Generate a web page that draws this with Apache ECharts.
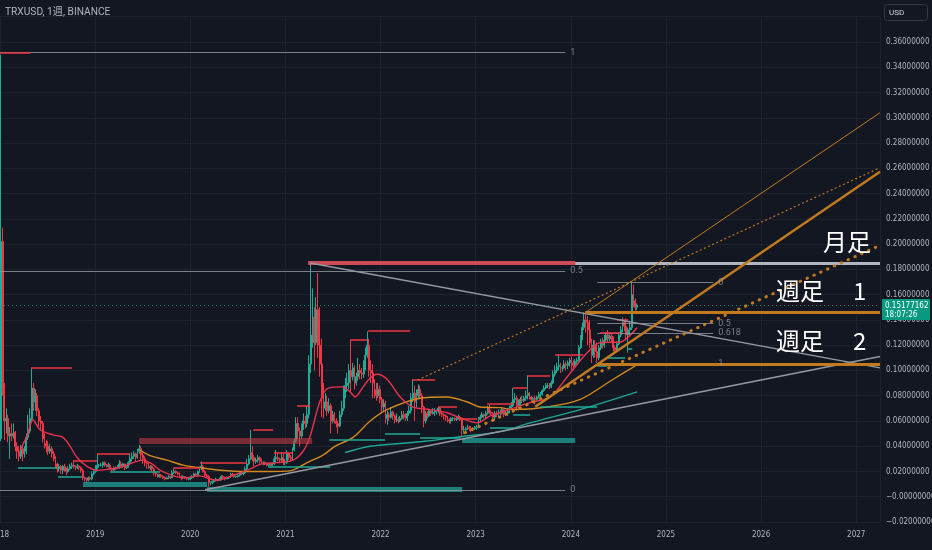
<!DOCTYPE html>
<html><head><meta charset="utf-8">
<script src="https://cdn.jsdelivr.net/npm/echarts@6/dist/echarts.min.js"></script>
<style>html,body{margin:0;padding:0;background:#131722;}#c{width:932px;height:550px;}</style>
</head><body><div id="c"></div>
<script>
// ---- weekly candles, one entry per week starting Mon 2018-01-01: [close, high, low]
const firstOpen = .046;
const w2018 = [[.202,.350,.044],[.085,.213,.080],[.060,.090,.045],[.062,.070,.050],[.048,.065,.043],
[.050,.055,.030],[.048,.058,.044],[.051,.058,.046],[.040,.052,.036],[.036,.043,.030],[.032,.040,.028],
[.038,.041,.030],[.034,.040,.028],[.036,.040,.031],[.047,.050,.034],[.052,.065,.045],[.062,.070,.050],
[.086,.102,.060],[.075,.090,.068],[.080,.085,.068],[.068,.082,.064],[.060,.070,.055],[.058,.064,.052],
[.046,.060,.043],[.042,.050,.038],[.040,.045,.035],[.036,.044,.033],[.038,.042,.034],[.034,.040,.031],
[.030,.036,.028],[.026,.032,.023],[.022,.027,.019],[.024,.026,.020],[.021,.025,.018],[.024,.025,.018],
[.022,.026,.020],[.020,.023,.017],[.022,.024,.019],[.024,.026,.021],[.025,.027,.022],[.024,.029,.022],
[.023,.025,.021],[.024,.026,.022],[.023,.025,.021],[.021,.024,.019],[.015,.022,.013],[.014,.016,.012],
[.013,.015,.011],[.015,.016,.012],[.014,.016,.013],[.018,.020,.013],[.020,.022,.017],[.024,.025,.019]];
const w2019 = [[.025,.034,.022],[.025,.026,.023],[.025,.027,.024],[.027,.028,.023],
[.025,.028,.024],[.024,.026,.023],[.025,.027,.023],[.022,.026,.021],
[.021,.023,.020],[.023,.024,.021],[.022,.024,.021],[.023,.025,.022],
[.026,.029,.022],[.024,.028,.023],[.026,.027,.023],[.023,.026,.021],[.024,.025,.022],
[.027,.028,.023],[.030,.034,.025],[.032,.035,.028],[.034,.036,.030],
[.031,.035,.028],[.036,.038,.030],[.038,.041,.034],[.033,.040,.029],
[.030,.035,.026],[.027,.032,.024],[.026,.028,.022],[.023,.027,.022],[.024,.025,.021],
[.022,.025,.020],[.019,.023,.017],[.018,.020,.016],[.016,.018,.015],
[.017,.018,.015],[.016,.018,.015],[.015,.017,.014],[.014,.016,.013],[.015,.016,.014],
[.016,.017,.014],[.015,.016,.014],[.019,.021,.015],[.020,.022,.018],
[.019,.021,.018],[.018,.020,.017],[.016,.019,.015],[.015,.017,.013],
[.016,.017,.014],[.015,.016,.014],[.014,.015,.013],[.014,.015,.013],[.015,.016,.013]];
const w2020 = [[.016,.017,.014],[.018,.019,.015],[.017,.019,.016],[.020,.021,.016],
[.023,.024,.019],[.024,.028,.021],[.020,.025,.019],[.017,.021,.016],
[.016,.018,.015],[.011,.017,.008],[.011,.012,.009],[.012,.013,.010],[.013,.014,.011],
[.014,.015,.012],[.013,.014,.012],[.014,.015,.013],[.016,.017,.013],
[.015,.017,.014],[.014,.016,.013],[.015,.016,.014],[.015,.016,.014],
[.018,.019,.015],[.017,.019,.016],[.016,.018,.015],[.016,.017,.015],[.017,.018,.015],
[.019,.020,.016],[.018,.020,.017],[.019,.020,.017],[.022,.024,.018],
[.026,.030,.021],[.030,.033,.025],[.035,.053,.029],[.031,.040,.028],[.028,.033,.024],
[.029,.031,.026],[.031,.033,.027],[.028,.032,.026],[.027,.030,.026],
[.027,.028,.025],[.026,.028,.025],[.025,.027,.024],[.026,.027,.024],
[.025,.027,.024],[.026,.027,.024],[.030,.032,.025],[.031,.037,.027],[.030,.034,.028],
[.029,.031,.027],[.031,.035,.028],[.027,.034,.025],[.027,.030,.025]];
const w2021 = [[.034,.037,.026],[.031,.035,.029],[.030,.033,.028],[.037,.039,.029],
[.044,.046,.036],[.058,.063,.043],[.052,.063,.046],[.048,.055,.040],
[.055,.058,.046],[.060,.066,.053],[.058,.064,.054],[.065,.072,.055],[.105,.112,.062],
[.128,.185,.098],[.142,.165,.118],[.122,.150,.100],[.148,.158,.120],
[.120,.177,.110],[.105,.150,.095],[.078,.125,.063],[.070,.090,.062],[.075,.082,.068],
[.068,.080,.064],[.072,.078,.066],[.060,.074,.050],[.065,.068,.058],
[.060,.067,.058],[.058,.062,.055],[.056,.060,.050],[.065,.068,.055],
[.070,.076,.063],[.085,.088,.068],[.088,.094,.078],[.090,.098,.083],[.100,.105,.085],
[.095,.124,.082],[.102,.106,.092],[.090,.104,.085],[.095,.098,.088],
[.100,.110,.092],[.098,.105,.093],[.097,.102,.093],[.102,.108,.094],
[.112,.118,.100],[.120,.131,.110],[.100,.125,.095],[.098,.108,.090],[.090,.105,.078],
[.085,.093,.078],[.080,.090,.076],[.085,.090,.078],[.077,.088,.074]];
const w2022 = [[.071,.079,.066],[.074,.077,.068],[.062,.076,.058],[.065,.068,.057],[.063,.067,.060],
[.067,.071,.062],[.064,.068,.061],[.061,.065,.058],[.061,.066,.059],
[.060,.063,.058],[.062,.064,.059],[.065,.068,.061],[.063,.068,.061],
[.062,.066,.060],[.066,.068,.060],[.068,.072,.064],[.078,.082,.066],
[.082,.093,.075],[.075,.088,.060],[.080,.085,.071],[.085,.089,.078],[.080,.088,.078],
[.071,.082,.066],[.060,.072,.055],[.066,.068,.058],[.064,.068,.062],
[.068,.069,.063],[.066,.069,.064],[.067,.070,.065],[.068,.070,.064],
[.068,.069,.065],[.070,.071,.066],[.066,.071,.064],[.065,.068,.063],[.064,.066,.061],
[.063,.065,.060],[.061,.064,.059],[.060,.062,.058],[.062,.063,.058],
[.062,.063,.060],[.061,.063,.060],[.062,.063,.060],[.063,.065,.061],[.061,.064,.060],
[.053,.062,.047],[.053,.056,.050],[.054,.055,.051],[.055,.057,.053],
[.054,.056,.052],[.053,.056,.051],[.054,.055,.052],[.055,.056,.053]];
const w2023 = [[.055,.057,.053],[.061,.063,.054],[.063,.065,.060],[.065,.067,.062],[.064,.066,.062],
[.066,.068,.062],[.070,.072,.065],[.067,.073,.066],[.066,.069,.064],
[.063,.067,.061],[.066,.068,.060],[.065,.068,.063],[.067,.069,.063],
[.066,.069,.064],[.069,.071,.065],[.065,.070,.063],[.066,.068,.064],
[.068,.070,.064],[.070,.072,.066],[.072,.075,.069],[.077,.086,.071],[.078,.082,.074],
[.072,.080,.068],[.074,.077,.070],[.077,.079,.072],[.076,.080,.074],
[.078,.080,.075],[.080,.084,.076],[.082,.096,.077],[.079,.083,.077],[.077,.080,.075],
[.078,.079,.076],[.077,.080,.073],[.079,.080,.076],[.081,.083,.078],
[.081,.083,.079],[.084,.085,.080],[.086,.088,.083],[.088,.090,.085],
[.088,.090,.086],[.087,.090,.085],[.090,.092,.086],[.097,.100,.089],[.100,.104,.095],
[.103,.106,.098],[.104,.112,.100],[.102,.106,.098],[.102,.104,.099],
[.105,.108,.101],[.104,.107,.100],[.106,.108,.101],[.108,.110,.103]];
const w2024 = [[.106,.111,.100],[.104,.108,.100],[.107,.109,.103],[.108,.110,.104],[.118,.120,.107],
[.125,.128,.117],[.134,.138,.124],[.140,.146,.132],[.138,.145,.130],
[.132,.143,.120],[.122,.140,.118],[.112,.125,.106],[.120,.124,.110],
[.115,.124,.110],[.110,.122,.106],[.118,.120,.108],[.123,.125,.116],[.120,.126,.117],
[.124,.128,.118],[.128,.130,.122],[.125,.132,.122],[.127,.130,.123],
[.126,.129,.122],[.118,.127,.115],[.116,.120,.113],[.121,.123,.115],
[.128,.130,.120],[.132,.135,.126],[.138,.142,.130],[.135,.140,.131],[.128,.141,.125],
[.132,.134,.114],[.134,.138,.128],[.160,.170,.132],[.155,.168,.150],
[.150,.157,.145],[.15177162,.153,.148]];
const lastPrice = 0.15177162;
const countdown = '18:07:26';

// ---- moving averages: [year, value]
const maRed = [[2018.21,.037],[2018.284,.048],[2018.347,.061],[2018.421,.053],[2018.557,.049],[2018.662,.047],
[2018.736,.040],[2018.81,.031],[2018.915,.024],[2019.02,.021],[2019.157,.022],[2019.262,.023],[2019.399,.027],
[2019.504,.029],[2019.598,.026],[2019.682,.021],[2019.788,.0175],[2019.924,.015],[2020.103,.0165],[2020.208,.014],
[2020.282,.013],[2020.418,.016],[2020.597,.021],[2020.755,.026],[2020.913,.027],[2021.081,.029],[2021.186,.036],
[2021.26,.048],[2021.365,.076],[2021.449,.086],[2021.596,.087],[2021.68,.083],[2021.733,.079],[2021.817,.087],
[2021.891,.094],[2021.964,.097],[2022.069,.093],[2022.206,.079],[2022.343,.071],[2022.522,.069],[2022.70,.0665],
[2022.837,.0625],[2023.016,.0585],[2023.152,.064],[2023.258,.0665],[2023.573,.0745],[2023.783,.079],
[2023.994,.098],[2024.172,.114],[2024.309,.122],[2024.519,.1225],[2024.698,.134]];
const maOrange = [[2019.472,.037],[2019.577,.0325],[2019.756,.029],[2019.924,.025],[2020.103,.023],[2020.313,.021],
[2020.597,.020],[2020.839,.020],[2021.049,.0205],[2021.228,.027],[2021.396,.033],[2021.523,.040],[2021.712,.047],
[2021.891,.060],[2022.069,.069],[2022.416,.078],[2022.70,.079],[2022.911,.075],[2023.047,.071],[2023.258,.0705],
[2023.394,.069],[2023.752,.071],[2024.099,.077],[2024.446,.093],[2024.698,.1045]];
const maTeal = [[2021.628,.035],[2021.891,.040],[2022.416,.0435],[2022.837,.0475],[2023.258,.0515],
[2023.573,.0585],[2024.099,.069],[2024.698,.083]];

// ---- pivot level segments [fromYear, toYear, price]
const levelsRed = [[2018.0,2018.315,.3515],[2018.326,2018.757,.102],[2018.768,2019.02,.0285],[2019.02,2019.367,.034],
[2019.819,2020.103,.023],[2020.103,2020.597,.027],[2020.66,2020.871,.053],[2020.881,2021.081,.035],
[2021.123,2021.26,.072],[2021.68,2021.859,.124],[2021.87,2022.311,.1315],[2022.332,2022.574,.093],
[2022.606,2022.805,.071],[2022.837,2023.016,.062],[2023.121,2023.394,.0735],[2023.394,2023.542,.086],
[2023.542,2023.783,.096],[2023.836,2024.13,.1125],[2024.151,2024.33,.1457],[2024.309,2024.519,.130],
[2024.488,2024.603,.140]];
const levelsTeal = [[2018.19,2018.60,.023],[2018.61,2018.862,.016],[2019.157,2019.682,.020],[2020.818,2021.47,.024],
[2021.46,2022.048,.045],[2022.048,2022.416,.050],[2022.416,2022.837,.047],[2023.152,2023.394,.055],
[2023.394,2023.573,.065],[2023.678,2024.278,.071],[2024.278,2024.383,.104],[2024.383,2024.572,.110],
[2024.593,2024.646,.117]];
const bandsRed = [[2019.462,2021.281,.044],[2021.239,2024.046,.185]];
const bandsTeal = [[2018.873,2020.177,.0095],[2020.177,2022.858,.0063],[2022.858,2024.046,.045]];

// ---- fibonacci retracements
const fibA = {from: 2018.0, to: 2023.941, low: .0055, high: .3515, levels: [1, 0.5, 0]};
const fibB = {from: 2024.278, to: 2025.497, top: .1694, bottom: .1049, levels: [0, 0.5, 0.618, 1]};

// ---- drawn lines
const hMonthly = [2024.046, 2027.25, .185];
const hWeekly1 = [2024.151, 2027.25, .1457];
const hWeekly2 = [2024.278, 2027.25, .1049];
const trendOrangeThin = [2024.151, .1457, 2027.25, .304];
const trendOrangeThick = [2023.626, .0713, 2027.25, .2573];
const trendOrangeDotThin = [2022.395, .0926, 2027.25, .2605];
const trendOrangeDotThick = [2022.89, .0507, 2027.25, .199];
const trendGrayDown = [2021.26, .185, 2027.25, .102];
const trendGrayUp = [2020.156, .0055, 2027.25, .111];

// ---- build candles (placed at mid-week)
const weeks = [].concat(w2018, w2019, w2020, w2021, w2022, w2023, w2024);
const t0 = Date.UTC(2018, 0, 1);
const candles = [];
let prevClose = firstOpen;
weeks.forEach((w, i) => {
  const t = t0 + (i * 7 + 3) * 86400000;
  const yr = 2018 + (t - t0) / (365.25 * 86400000);
  candles.push([yr, prevClose, w[0], w[2], w[1]]);
  prevClose = w[0];
});

const UP = '#22ab94', DOWN = '#f23645', ORANGE = '#c27a1f', GRAY = '#9598a1';
const marks = [];
function seg(x1, y1, x2, y2, style, label) {
  const a = {coord: [x1, y1], lineStyle: style};
  if (label) a.label = {show: true, position: 'end', formatter: label, color: GRAY, fontSize: 9, distance: 5,
    fontFamily: 'Roboto, sans-serif'};
  marks.push([a, {coord: [x2, y2]}]);
}
bandsRed.forEach((b, i) => seg(b[0], b[2], b[1], b[2], {color: i ? 'rgba(242,82,95,0.85)' : 'rgba(200,60,70,0.55)', width: i ? 4 : 6, type: 'solid'}));
bandsTeal.forEach(b => seg(b[0], b[2], b[1], b[2], {color: 'rgba(34,171,160,0.7)', width: 5, type: 'solid'}));
fibA.levels.forEach(l => { const p = fibA.low + l * (fibA.high - fibA.low); seg(fibA.from, p, fibA.to, p, {color: GRAY, width: 1, type: 'solid', opacity: 0.8}, String(l)); });
fibB.levels.forEach(l => { const p = fibB.top - l * (fibB.top - fibB.bottom); seg(fibB.from, p, fibB.to, p, {color: GRAY, width: 1, type: 'solid', opacity: 0.8}, String(l)); });
levelsRed.forEach(s => seg(s[0], s[2], s[1], s[2], {color: DOWN, width: 1.5, type: 'solid'}));
levelsTeal.forEach(s => seg(s[0], s[2], s[1], s[2], {color: UP, width: 1.5, type: 'solid'}));
seg(trendGrayDown[0], trendGrayDown[1], trendGrayDown[2], trendGrayDown[3], {color: GRAY, width: 1.5, type: 'solid'});
seg(trendGrayUp[0], trendGrayUp[1], trendGrayUp[2], trendGrayUp[3], {color: GRAY, width: 1.5, type: 'solid'});
seg(hMonthly[0], hMonthly[2], hMonthly[1], hMonthly[2], {color: '#b2b5be', width: 3, type: 'solid'});
seg(hWeekly1[0], hWeekly1[2], hWeekly1[1], hWeekly1[2], {color: ORANGE, width: 3, type: 'solid'});
seg(hWeekly2[0], hWeekly2[2], hWeekly2[1], hWeekly2[2], {color: ORANGE, width: 3, type: 'solid'});
seg(trendOrangeThin[0], trendOrangeThin[1], trendOrangeThin[2], trendOrangeThin[3], {color: ORANGE, width: 1, type: 'solid'});
seg(trendOrangeThick[0], trendOrangeThick[1], trendOrangeThick[2], trendOrangeThick[3], {color: ORANGE, width: 2.5, type: 'solid'});
seg(trendOrangeDotThin[0], trendOrangeDotThin[1], trendOrangeDotThin[2], trendOrangeDotThin[3], {color: ORANGE, width: 1.2, type: [1, 3.5], cap: 'round'});
seg(trendOrangeDotThick[0], trendOrangeDotThick[1], trendOrangeDotThick[2], trendOrangeDotThick[3], {color: ORANGE, width: 3, type: [0.5, 7], cap: 'round'});
seg(2018.0, lastPrice, 2027.25, lastPrice, {color: 'rgba(34,171,148,0.7)', width: 1, type: [1, 3]});

// pick a narrow font for the axis labels if one is installed
function hasFont(f) {
  const c = document.createElement('canvas').getContext('2d');
  c.font = '20px monospace'; const a = c.measureText('0.36000000 2019').width;
  c.font = '20px "' + f + '", monospace'; return Math.abs(c.measureText('0.36000000 2019').width - a) > 0.5;
}
const narrow = hasFont('Liberation Sans Narrow') ? 'Liberation Sans Narrow' : (hasFont('DejaVu Sans Condensed') ? 'DejaVu Sans Condensed' : null);
const axisFont = narrow ? '"' + narrow + '", Roboto, sans-serif' : 'Roboto, sans-serif';
const axisSize = narrow === 'Liberation Sans Narrow' ? 10 : (narrow ? 8 : 8.5);

const chart = echarts.init(document.getElementById('c'), null, {renderer: 'canvas', width: 932, height: 550});
chart.setOption({
  backgroundColor: '#131722',
  animation: false,
  title: {text: 'TRXUSD, 1週, BINANCE', left: 5, top: 7, padding: 0, textStyle: {color: '#b2b5be', fontSize: 10.2, fontWeight: 'normal',
    fontFamily: 'Roboto, "Noto Sans CJK JP", sans-serif'}},
  grid: {left: 0, right: 52, top: 16.7, bottom: 28, containLabel: false, outerBoundsMode: 'none'},
  xAxis: {type: 'value', min: 2018, max: 2027.25, interval: 1,
    axisLine: {show: false}, axisTick: {show: false},
    splitLine: {show: true, lineStyle: {color: '#1e222d', width: 1}},
    axisLabel: {color: '#b2b5be', fontSize: axisSize, margin: 9, fontFamily: axisFont, showMaxLabel: false,
      formatter: v => Number.isInteger(v) ? String(v) : ''}},
  yAxis: {type: 'value', position: 'right', min: -0.02, max: 0.38, interval: 0.02,
    axisLine: {show: false}, axisTick: {show: false},
    splitLine: {show: true, lineStyle: {color: '#1e222d', width: 1}},
    axisLabel: {color: '#b2b5be', fontSize: axisSize, margin: 6, fontFamily: axisFont,
      formatter: v => v > 0.37 ? '' : (Math.abs(v) < 1e-9 ? '−0.00000000' : v.toFixed(8).replace('-', '−'))}},
  series: [
    {type: 'candlestick', data: candles, encode: {x: 0, y: [1, 2, 3, 4]}, barWidth: 1.4, z: 2,
      itemStyle: {color: UP, color0: DOWN, borderColor: UP, borderColor0: DOWN, borderWidth: 1}},
    {type: 'line', data: maTeal, smooth: 0.3, symbol: 'none', z: 3, lineStyle: {color: '#1fa595', width: 1.4}},
    {type: 'line', data: maOrange, smooth: 0.3, symbol: 'none', z: 3, lineStyle: {color: '#d4891f', width: 1.4}},
    {type: 'line', data: maRed, smooth: 0.3, symbol: 'none', z: 3, lineStyle: {color: '#e8334f', width: 1.4}},
    {type: 'line', data: [], z: 4, markLine: {silent: true, symbol: ['none', 'none'], animation: false,
      label: {show: false}, emphasis: {disabled: true}, data: marks}}
  ]
});

const py = chart.convertToPixel({yAxisIndex: 0}, lastPrice);
const cjk = '"Noto Sans CJK JP", sans-serif';
const tagFont = axisSize + 'px ' + axisFont;
chart.setOption({graphic: [
  {type: 'rect', shape: {x: 884.5, y: 4.5, width: 43, height: 16, r: 3}, style: {fill: '#131722', stroke: '#363a45', lineWidth: 1}, z: 100},
  {type: 'text', x: 889, y: 12.5, style: {text: 'USD', fill: '#d1d4dc', font: '8px Roboto, sans-serif', verticalAlign: 'middle'}, z: 101},
  {type: 'rect', shape: {x: 882, y: py - 6, width: 48, height: 21}, style: {fill: '#089981'}, z: 100},
  {type: 'text', x: 885, y: py + 0.5, style: {text: lastPrice.toFixed(8), fill: '#ffffff', font: tagFont, verticalAlign: 'middle'}, z: 101},
  {type: 'text', x: 885, y: py + 9.5, style: {text: countdown, fill: '#ffffff', font: tagFont, verticalAlign: 'middle'}, z: 101},
  {type: 'text', x: 823, y: 242, style: {text: '月足', fill: '#ffffff', font: '24px ' + cjk, verticalAlign: 'middle'}, z: 100},
  {type: 'text', x: 776, y: 291, style: {text: '週足', fill: '#ffffff', font: '24px ' + cjk, verticalAlign: 'middle'}, z: 100},
  {type: 'text', x: 853, y: 291, style: {text: '1', fill: '#ffffff', font: '24px ' + cjk, verticalAlign: 'middle'}, z: 100},
  {type: 'text', x: 776, y: 341, style: {text: '週足', fill: '#ffffff', font: '24px ' + cjk, verticalAlign: 'middle'}, z: 100},
  {type: 'text', x: 853, y: 341, style: {text: '2', fill: '#ffffff', font: '24px ' + cjk, verticalAlign: 'middle'}, z: 100}
]});
</script>
</body></html>
